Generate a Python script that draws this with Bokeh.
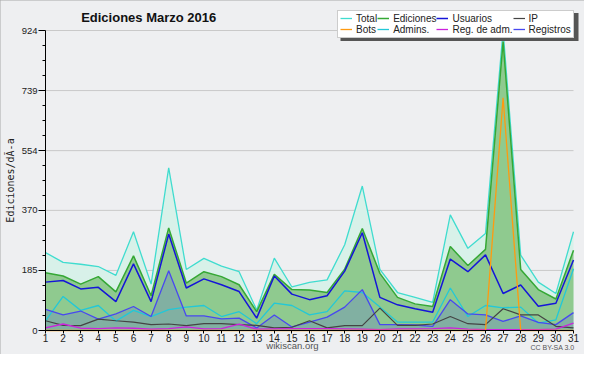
from bokeh.plotting import figure
from bokeh.models import (ColumnDataSource, Range1d, FixedTicker, Legend,
                          LegendItem, Label, BoxAnnotation)
from bokeh.embed import file_html
from bokeh.resources import INLINE

# ---- data ----
days = list(range(1, 32))
total = [240, 210, 204, 197, 170, 304, 143, 501, 188, 222, 198, 181, 63, 223, 134, 148,
         156, 264, 445, 188, 117, 102, 87, 356, 253, 299, 924, 232, 149, 114, 304]
ediciones = [178, 168, 143, 166, 119, 230, 107, 316, 146, 181, 166, 141, 58, 173, 126, 125,
             117, 189, 314, 176, 102, 82, 74, 259, 200, 250, 890, 188, 126, 97, 247]
usuarios = [149, 154, 128, 133, 89, 205, 89, 297, 131, 159, 141, 120, 38, 168, 112, 95,
            107, 183, 301, 102, 79, 67, 56, 220, 181, 233, 114, 140, 75, 84, 217]
ip = [30, 16, 15, 35, 30, 26, 18, 20, 15, 21, 21, 18, 16, 8, 10, 30,
      8, 15, 15, 69, 16, 16, 20, 43, 21, 18, 67, 48, 48, 13, 8]
bots = [0, 0, 0, 0, 0, 0, 0, 0, 0, 0, 0, 0, 0, 0, 0, 0,
        0, 0, 0, 0, 0, 0, 0, 0, 0, 0, 717, 0, 0, 0, 0]
admins = [30, 105, 62, 77, 29, 62, 43, 64, 72, 77, 43, 58, 21, 84, 77, 48,
          58, 122, 117, 72, 26, 26, 26, 131, 43, 77, 70, 72, 23, 33, 190]
regadm = [8, 20, 7, 6, 8, 7, 4, 6, 11, 5, 6, 20, 4, 5, 6, 6,
          6, 5, 4, 3, 5, 5, 6, 8, 4, 3, 3, 3, 3, 4, 23]
registros = [65, 48, 60, 35, 51, 74, 43, 184, 45, 45, 36, 38, 8, 48, 11, 26,
             41, 72, 126, 18, 18, 17, 13, 95, 51, 48, 28, 45, 25, 18, 55]
y_ticks = [0, 185, 370, 554, 739, 924]
x_ticks = days

src = ColumnDataSource(dict(day=days, total=total, ediciones=ediciones, usuarios=usuarios,
                            ip=ip, bots=bots, admins=admins, regadm=regadm,
                            registros=registros))

# ---- layout (pixels) ----
W, H = 584, 354
PL, PR, PT, PB = 45, 573, 30, 330   # plot area edges inside the canvas
xs = (PR - PL) / (days[-1] - days[0])          # px per day
ys = (PB - PT) / (y_ticks[-1] - y_ticks[0])    # px per unit
x_range = Range1d(days[0] - PL / xs, days[-1] + (W - PR) / xs)
y_range = Range1d(y_ticks[0] - (H - PB) / ys, y_ticks[-1] + PT / ys)

BG = "#eeeff1"
FONT = "Liberation Sans"

p = figure(width=W, height=H, output_backend="svg", toolbar_location=None,
           title=None, x_range=x_range, y_range=y_range, min_border=0)
p.background_fill_color = BG
p.border_fill_color = BG
p.outline_line_color = None
p.styles = {"outline": "2px solid #a8a8a8", "outline-offset": "-2px"}
p.xgrid.visible = False
p.ygrid.visible = False

# axes, drawn inside the canvas area
minor = [a + (b - a) * k / 4 for a, b in zip(y_ticks, y_ticks[1:]) for k in range(1, 4)]
ya = p.yaxis[0]
ya.fixed_location = days[0]
ya.bounds = (y_ticks[0], y_ticks[-1])
ya.ticker = FixedTicker(ticks=y_ticks, minor_ticks=minor)
ya.major_tick_out = 7
ya.major_tick_in = 0
ya.minor_tick_out = 3
ya.minor_tick_in = 0
ya.major_label_standoff = 1
ya.major_label_text_font = FONT
ya.major_label_text_font_size = "9.5px"
ya.major_label_text_color = "#222222"
ya.axis_label = "Ediciones/dÃ-a"
ya.axis_label_text_font = "DejaVu Sans Mono"
ya.axis_label_text_font_size = "10px"
ya.axis_label_text_font_style = "normal"
ya.axis_label_text_color = "#222222"
ya.axis_label_standoff = 3
ya.axis_line_color = "black"
ya.major_tick_line_color = "black"
ya.minor_tick_line_color = "black"

xa = p.xaxis[0]
xa.fixed_location = y_ticks[0]
xa.bounds = (days[0], days[-1])
xa.ticker = FixedTicker(ticks=x_ticks, minor_ticks=[])
xa.major_tick_out = 3
xa.major_tick_in = 0
xa.major_label_standoff = 0
xa.major_label_text_font = FONT
xa.major_label_text_font_size = "10px"
xa.major_label_text_color = "#222222"
xa.axis_line_color = "black"
xa.major_tick_line_color = "black"

# horizontal grid lines from the y tick list
p.segment(x0=[days[0]] * len(y_ticks), x1=[days[-1]] * len(y_ticks),
          y0=y_ticks, y1=y_ticks, line_color="#c9c9c9", line_width=1)

# areas and lines
p.varea(x="day", y1=0, y2="total", source=src, fill_color="#d8f1e9", fill_alpha=1)
r_total = p.line("day", "total", source=src, line_color="#40dccf", line_width=1.3)
p.varea(x="day", y1=0, y2="ediciones", source=src, fill_color="#8fca8f", fill_alpha=1)
r_edic = p.line("day", "ediciones", source=src, line_color="#35a835", line_width=1.5)
p.varea(x="day", y1=0, y2="registros", source=src, fill_color="#4a4af0", fill_alpha=0.2)
r_adm = p.line("day", "admins", source=src, line_color="#22c8d8", line_width=1.3)
r_reg = p.line("day", "registros", source=src, line_color="#4848f0", line_width=1.3)
r_ip = p.line("day", "ip", source=src, line_color="#444444", line_width=1.2)
r_regadm = p.line("day", "regadm", source=src, line_color="#cc22dd", line_width=1.3)
r_usu = p.line("day", "usuarios", source=src, line_color="#1515d8", line_width=1.5)
r_bots = p.line("day", "bots", source=src, line_color="#ff9a10", line_width=1.3)

# legend shadow + legend (screen units: x from left, y from bottom of the canvas)
LX, LBOT, LW, LH = 337, 37.5, 238, 28
LTOP = LBOT - LH
SH = 3
shadow = BoxAnnotation(left=LX + SH, right=LX + LW + SH,
                       top=H - (LTOP + SH), bottom=H - (LBOT + SH),
                       left_units="screen", right_units="screen",
                       top_units="screen", bottom_units="screen",
                       fill_color="#555555", fill_alpha=1, line_color=None)
p.add_layout(shadow)

items = [
    LegendItem(label="Total", renderers=[r_total]),
    LegendItem(label="Bots", renderers=[r_bots]),
    LegendItem(label="Ediciones", renderers=[r_edic]),
    LegendItem(label="Admins.", renderers=[r_adm]),
    LegendItem(label="Usuarios", renderers=[r_usu]),
    LegendItem(label="Reg. de adm.", renderers=[r_regadm]),
    LegendItem(label="IP", renderers=[r_ip]),
    LegendItem(label="Registros", renderers=[r_reg]),
]
legend = Legend(items=items, location=(LX, H - LBOT), orientation="vertical", nrows=2,
                background_fill_color="white", background_fill_alpha=1,
                border_line_color="#999999", border_line_width=1,
                label_text_font=FONT, label_text_font_size="10px",
                label_text_line_height=0.9,
                label_text_color="#222222",
                label_height=10, glyph_height=10, glyph_width=12,
                label_standoff=4, padding=2, spacing=0, margin=0)
p.add_layout(legend, "center")

# texts
p.add_layout(Label(x=150, y=H - 17, x_units="screen", y_units="screen",
                   text="Ediciones  Marzo 2016", text_font=FONT,
                   text_font_size="13px", text_font_style="bold",
                   text_color="#111111", text_align="center",
                   text_baseline="alphabetic"))
p.add_layout(Label(x=292, y=H - 345, x_units="screen", y_units="screen",
                   text="wikiscan.org", text_font=FONT, text_font_size="9.5px",
                   text_color="#555555", text_align="center",
                   text_baseline="middle"))
p.add_layout(Label(x=574, y=H - 346.5, x_units="screen", y_units="screen",
                   text="CC BY-SA 3.0", text_font=FONT, text_font_size="7px",
                   text_color="#555555", text_align="right",
                   text_baseline="middle"))

open("out.html", "w").write(file_html(p, INLINE))
